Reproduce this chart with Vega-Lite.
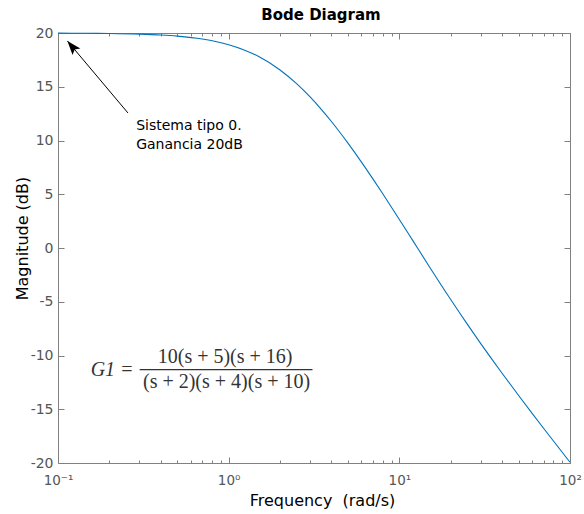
{
  "$schema": "https://vega.github.io/schema/vega-lite/v6.json",
  "width": 512,
  "height": 430,
  "autosize": {"type": "none"},
  "padding": {"left": 58, "top": 33, "right": 14, "bottom": 51},
  "background": "white",
  "config": {
    "view": {"stroke": "#808080", "strokeWidth": 1},
    "font": "DejaVu Sans",
    "axis": {
      "grid": false,
      "domain": false,
      "labelFont": "DejaVu Sans",
      "titleFont": "DejaVu Sans",
      "tickColor": "#808080",
      "tickWidth": 1,
      "labelColor": "#555555",
      "titleColor": "#000000",
      "titleFontWeight": "normal"
    }
  },
  "title": {
    "text": "Bode Diagram",
    "font": "DejaVu Sans",
    "fontSize": 15,
    "fontWeight": "bold",
    "color": "#000000",
    "anchor": "middle",
    "baseline": "alphabetic",
    "offset": -9,
    "dx": 7
  },
  "datasets": {
    "curve": [
      {"w": 0.1, "v": 19.988},
      {"w": 0.15, "v": 19.973},
      {"w": 0.2, "v": 19.952},
      {"w": 0.3, "v": 19.892},
      {"w": 0.4, "v": 19.81},
      {"w": 0.5, "v": 19.706},
      {"w": 0.7, "v": 19.439},
      {"w": 1, "v": 18.912},
      {"w": 1.2, "v": 18.496},
      {"w": 1.5, "v": 17.806},
      {"w": 2, "v": 16.562},
      {"w": 2.5, "v": 15.292},
      {"w": 3, "v": 14.054},
      {"w": 3.5, "v": 12.876},
      {"w": 4, "v": 11.767},
      {"w": 5, "v": 9.756},
      {"w": 6, "v": 7.991},
      {"w": 7, "v": 6.432},
      {"w": 8, "v": 5.041},
      {"w": 10, "v": 2.658},
      {"w": 12, "v": 0.682},
      {"w": 15, "v": -1.737},
      {"w": 20, "v": -4.792},
      {"w": 25, "v": -7.08},
      {"w": 30, "v": -8.89},
      {"w": 40, "v": -11.647},
      {"w": 50, "v": -13.718},
      {"w": 60, "v": -15.378},
      {"w": 70, "v": -16.764},
      {"w": 80, "v": -17.955},
      {"w": 100, "v": -19.931}
    ],
    "arrow": [
      {"w": 0.257, "v": 12.56, "w2": 0.1135, "v2": 19.26}
    ],
    "head": [
      {"w": 0.1135, "v": 19.26}
    ],
    "note": [
      {"w": 0.287, "v": 11.38, "t": "Sistema tipo 0."},
      {"w": 0.287, "v": 9.61, "t": "Ganancia 20dB"}
    ],
    "lhs": [
      {"w": 0.1554, "v": -11.32, "t": "G1 ="}
    ],
    "frac": [
      {"w": 0.953, "v": -10.11, "t": "10(s + 5)(s + 16)"},
      {"w": 0.972, "v": -12.44, "t": "(s + 2)(s + 4)(s + 10)"}
    ],
    "bar": [
      {"w": 0.301, "w2": 3.099, "v": -11.32}
    ]
  },
  "resolve": {"axis": {"x": "independent", "y": "independent"}},
  "layer": [
    {
      "data": {"name": "curve"},
      "mark": {"type": "line", "color": "#0072BD", "strokeWidth": 1.1, "interpolate": "monotone"},
      "encoding": {
        "x": {
          "field": "w", "type": "quantitative",
          "scale": {"type": "log", "domain": [0.1, 100], "nice": false},
          "axis": {
            "orient": "bottom",
            "values": [0.1, 1, 10, 100],
            "ticks": false,
            "labelExpr": "datum.value < 0.5 ? '10⁻¹' : datum.value < 5 ? '10⁰' : datum.value < 50 ? '10¹' : '10²'",
            "labelFontSize": 13.5,
            "labelPadding": 10,
            "labelFlush": false,
            "labelOverlap": false,
            "title": "Frequency\u00a0\u00a0(rad/s)",
            "titleFontSize": 16,
            "titlePadding": 6,
            "titleX": 264
          }
        },
        "y": {
          "field": "v", "type": "quantitative",
          "scale": {"domain": [-20, 20], "nice": false},
          "axis": {
            "orient": "left",
            "values": [-20, -15, -10, -5, 0, 5, 10, 15, 20],
            "ticks": false,
            "labelExpr": "'' + datum.value",
            "labelFontSize": 14,
            "labelPadding": 5,
            "title": "Magnitude (dB)",
            "titleFontSize": 16,
            "titleBaseline": "alphabetic",
            "titlePadding": 3,
            "titleY": 205
          }
        }
      }
    },
    {
      "data": {"name": "curve"},
      "mark": {"type": "line", "strokeOpacity": 0},
      "encoding": {
        "x": {
          "field": "w", "type": "quantitative",
          "scale": {"type": "log", "domain": [0.1, 100], "nice": false},
          "axis": {"orient": "bottom", "values": [0.1, 1, 10, 100], "labels": false, "tickSize": -6, "title": null}
        },
        "y": {
          "field": "v", "type": "quantitative",
          "scale": {"domain": [-20, 20], "nice": false},
          "axis": {"orient": "left", "values": [-20, -15, -10, -5, 0, 5, 10, 15, 20], "labels": false, "tickSize": -6, "title": null}
        }
      }
    },
    {
      "data": {"name": "curve"},
      "mark": {"type": "line", "strokeOpacity": 0},
      "encoding": {
        "x": {
          "field": "w", "type": "quantitative",
          "scale": {"type": "log", "domain": [0.1, 100], "nice": false},
          "axis": {"orient": "bottom", "values": [0.2, 0.3, 0.4, 0.5, 0.6, 0.7, 0.8, 0.9, 2, 3, 4, 5, 6, 7, 8, 9, 20, 30, 40, 50, 60, 70, 80, 90], "labels": false, "tickSize": -3, "title": null}
        },
        "y": {
          "field": "v", "type": "quantitative",
          "scale": {"domain": [-20, 20], "nice": false},
          "axis": {"orient": "right", "values": [-20, -15, -10, -5, 0, 5, 10, 15, 20], "labels": false, "tickSize": -6, "title": null}
        }
      }
    },
    {
      "data": {"name": "curve"},
      "mark": {"type": "line", "strokeOpacity": 0},
      "encoding": {
        "x": {
          "field": "w", "type": "quantitative",
          "scale": {"type": "log", "domain": [0.1, 100], "nice": false},
          "axis": {"orient": "top", "values": [0.1, 1, 10, 100], "labels": false, "tickSize": -6, "title": null}
        },
        "y": {
          "field": "v", "type": "quantitative",
          "scale": {"domain": [-20, 20], "nice": false},
          "axis": null
        }
      }
    },
    {
      "data": {"name": "curve"},
      "mark": {"type": "line", "strokeOpacity": 0},
      "encoding": {
        "x": {
          "field": "w", "type": "quantitative",
          "scale": {"type": "log", "domain": [0.1, 100], "nice": false},
          "axis": {"orient": "top", "values": [0.2, 0.3, 0.4, 0.5, 0.6, 0.7, 0.8, 0.9, 2, 3, 4, 5, 6, 7, 8, 9, 20, 30, 40, 50, 60, 70, 80, 90], "labels": false, "tickSize": -3, "title": null}
        },
        "y": {
          "field": "v", "type": "quantitative",
          "scale": {"domain": [-20, 20], "nice": false},
          "axis": null
        }
      }
    },
    {
      "data": {"name": "arrow"},
      "mark": {"type": "rule", "color": "#000000", "strokeWidth": 1},
      "encoding": {
        "x": {"field": "w", "type": "quantitative", "scale": {"type": "log", "domain": [0.1, 100], "nice": false}, "axis": null},
        "y": {"field": "v", "type": "quantitative", "scale": {"domain": [-20, 20], "nice": false}, "axis": null},
        "x2": {"field": "w2"},
        "y2": {"field": "v2"}
      }
    },
    {
      "data": {"name": "head"},
      "mark": {"type": "point", "shape": "M0,0L0.72,2L0,1.6L-0.72,2Z", "filled": true, "color": "#000000", "opacity": 1, "size": 200, "angle": 320, "strokeWidth": 0},
      "encoding": {
        "x": {"field": "w", "type": "quantitative", "scale": {"type": "log", "domain": [0.1, 100], "nice": false}, "axis": null},
        "y": {"field": "v", "type": "quantitative", "scale": {"domain": [-20, 20], "nice": false}, "axis": null}
      }
    },
    {
      "data": {"name": "note"},
      "mark": {"type": "text", "align": "left", "baseline": "middle", "font": "DejaVu Sans", "fontSize": 14, "color": "#000000"},
      "encoding": {
        "x": {"field": "w", "type": "quantitative", "scale": {"type": "log", "domain": [0.1, 100], "nice": false}, "axis": null},
        "y": {"field": "v", "type": "quantitative", "scale": {"domain": [-20, 20], "nice": false}, "axis": null},
        "text": {"field": "t"}
      }
    },
    {
      "data": {"name": "lhs"},
      "mark": {"type": "text", "align": "left", "baseline": "middle", "font": "Liberation Serif", "fontStyle": "italic", "fontSize": 20, "color": "#333333"},
      "encoding": {
        "x": {"field": "w", "type": "quantitative", "scale": {"type": "log", "domain": [0.1, 100], "nice": false}, "axis": null},
        "y": {"field": "v", "type": "quantitative", "scale": {"domain": [-20, 20], "nice": false}, "axis": null},
        "text": {"field": "t"}
      }
    },
    {
      "data": {"name": "frac"},
      "mark": {"type": "text", "align": "center", "baseline": "middle", "font": "Liberation Serif", "fontSize": 20, "color": "#333333"},
      "encoding": {
        "x": {"field": "w", "type": "quantitative", "scale": {"type": "log", "domain": [0.1, 100], "nice": false}, "axis": null},
        "y": {"field": "v", "type": "quantitative", "scale": {"domain": [-20, 20], "nice": false}, "axis": null},
        "text": {"field": "t"}
      }
    },
    {
      "data": {"name": "bar"},
      "mark": {"type": "rule", "color": "#333333", "strokeWidth": 1.3},
      "encoding": {
        "x": {"field": "w", "type": "quantitative", "scale": {"type": "log", "domain": [0.1, 100], "nice": false}, "axis": null},
        "x2": {"field": "w2"},
        "y": {"field": "v", "type": "quantitative", "scale": {"domain": [-20, 20], "nice": false}, "axis": null}
      }
    }
  ]
}
